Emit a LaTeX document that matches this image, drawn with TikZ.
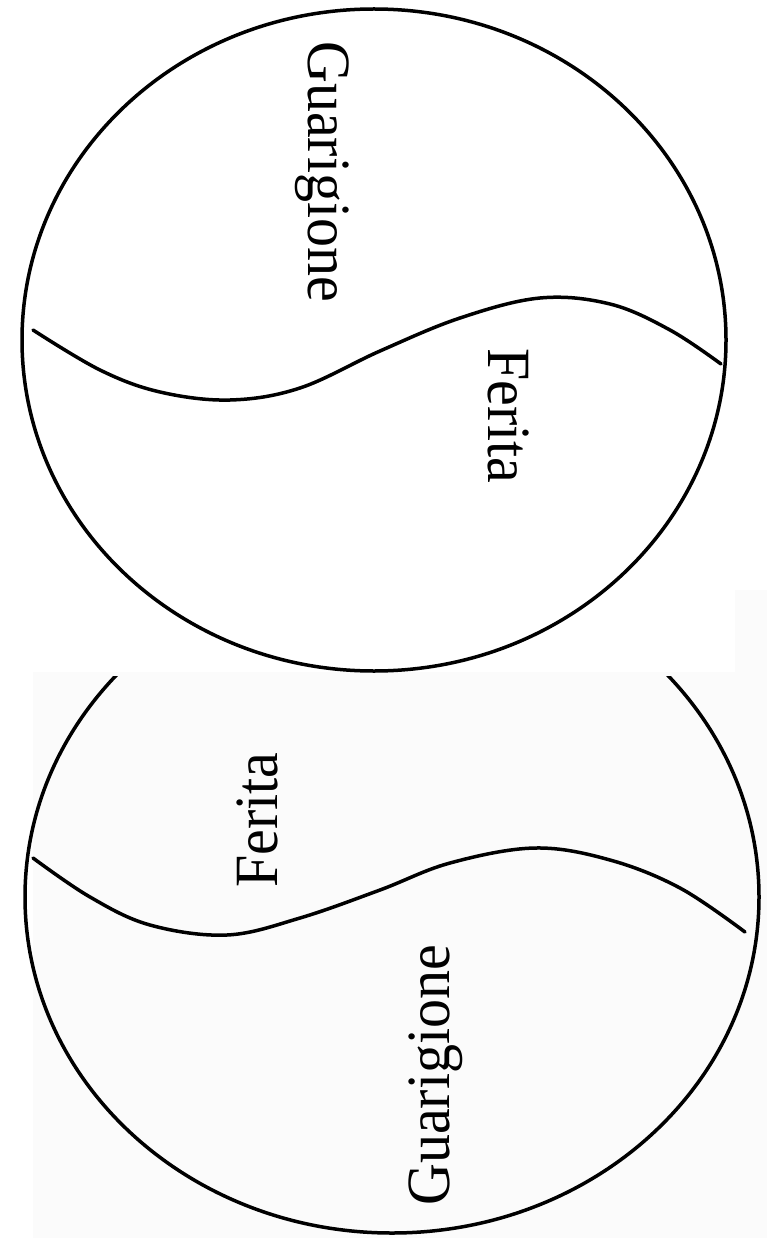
\documentclass[tikz,border=0pt]{standalone}
\usepackage{fontspec}
\setmainfont{Liberation Serif}
\usepackage{graphicx}
\begin{document}
\begin{tikzpicture}[x=1pt,y=-1pt,
  rim/.style={line width=3.5pt},
  wave/.style={line width=3.5pt, line join=round, line cap=round},
  lbl/.style={font=\fontsize{58}{60}\selectfont, inner sep=0pt}]
\useasboundingbox (0,0) rectangle (767,1238);
\fill[gray!3] (33,672) rectangle (767,1238);
\fill[gray!3] (735,590) rectangle (767,672);
% top disc
\draw[rim] (374,340) ellipse [x radius=352, y radius=331];
\draw[wave] plot[smooth, tension=0.6] coordinates {(33,330) (100,370) (160,392) (230,400) (300,388) (380,351) (460,318) (540,298) (610,304) (670,330) (721,364)};
\node[lbl, rotate=-90, anchor=base west] (g1) at (308,41) {\scalebox{1}[1.06]{Guarigione}};
\node[lbl, rotate=-90, anchor=base west] (f1) at (488,348) {\scalebox{1}[1.06]{Ferita}};
% bottom disc
\begin{scope}
\clip (0,676) rectangle (767,1238);
\draw[rim] (392,897) ellipse [x radius=367, y radius=336];
\end{scope}
\draw[wave] plot[smooth, tension=0.6] coordinates {(33,858) (90,897) (150,925) (227,935) (300,918) (380,890) (450,863) (535,848) (610,860) (680,888) (745,932)};
\node[lbl, rotate=90, anchor=base west] (f2) at (277,888) {\scalebox{1}[1.06]{Ferita}};
\node[lbl, rotate=90, anchor=base west] (g2) at (449,1206) {\scalebox{1}[1.06]{Guarigione}};
\end{tikzpicture}
\end{document}
